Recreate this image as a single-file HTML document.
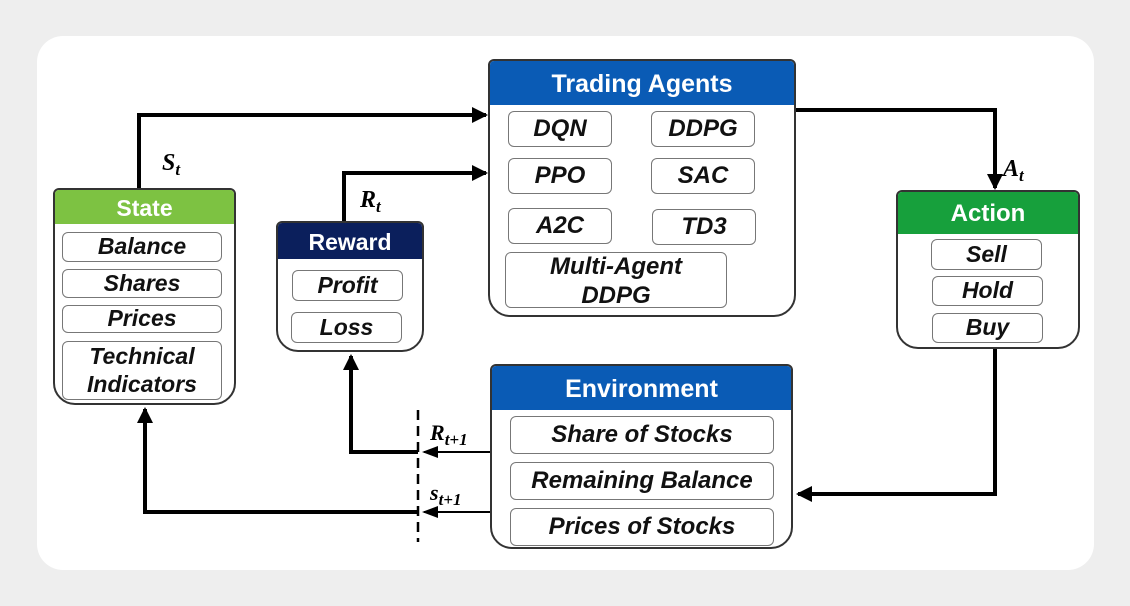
<!DOCTYPE html>
<html><head><meta charset="utf-8"><style>
body{margin:0;width:1130px;height:606px;background:#eeeeee;font-family:"Liberation Sans",sans-serif;overflow:hidden}
.card{position:absolute;left:37px;top:36px;width:1057px;height:534px;background:#fff;border-radius:26px}
.box{position:absolute;border:2px solid #333;border-radius:6px 6px 22px 22px;background:#fff;box-sizing:border-box;overflow:hidden}
.hd{position:absolute;left:0;right:0;top:0;color:#fff;font-weight:bold;text-align:center}
.it{position:absolute;border:1.5px solid #777;border-radius:6px;box-sizing:border-box;font-weight:bold;font-style:italic;text-align:center;color:#111;display:flex;align-items:center;justify-content:center;line-height:1.2}
svg{position:absolute;left:0;top:0}
.lb{font-family:"Liberation Serif",serif;font-weight:bold;font-style:italic}
</style></head><body>
<div class="card"></div>
<svg width="1130" height="606">
<defs><marker id="a" markerWidth="4" markerHeight="4" refX="3.5" refY="2" orient="auto" markerUnits="strokeWidth"><path d="M0,0L4,2L0,4z" fill="#000"/></marker>
<marker id="s" markerWidth="8" markerHeight="8" refX="7" refY="4" orient="auto" markerUnits="strokeWidth"><path d="M0,1L8,4L0,7z" fill="#000"/></marker></defs>
<g fill="none" stroke="#000" stroke-width="4">
<polyline points="139,188 139,115 486,115" marker-end="url(#a)"/>
<polyline points="344,221 344,173 486,173" marker-end="url(#a)"/>
<polyline points="796,110 995,110 995,188" marker-end="url(#a)"/>
<polyline points="995,349 995,494 798,494" marker-end="url(#a)"/>
<polyline points="418,452 351,452 351,356" marker-end="url(#a)"/>
<polyline points="418,512 145,512 145,409" marker-end="url(#a)"/>
</g>
<g stroke="#000" stroke-width="2" fill="none">
<line x1="490" y1="452" x2="424" y2="452" marker-end="url(#s)"/>
<line x1="490" y1="512" x2="424" y2="512" marker-end="url(#s)"/>
<line x1="418" y1="410" x2="418" y2="542" stroke-dasharray="10,6" stroke-width="2.5"/>
</g>
<text class="lb" x="162" y="170" font-size="24">S<tspan font-size="17" dy="5">t</tspan></text>
<text class="lb" x="360" y="207" font-size="24">R<tspan font-size="17" dy="5">t</tspan></text>
<text class="lb" x="1003" y="176" font-size="24">A<tspan font-size="17" dy="5">t</tspan></text>
<text class="lb" x="430" y="440" font-size="22">R<tspan font-size="17" dy="5">t+1</tspan></text>
<text class="lb" x="430" y="500" font-size="22">s<tspan font-size="17" dy="5">t+1</tspan></text>
</svg>

<div class="box" style="left:488px;top:59px;width:308px;height:258px">
<div class="hd" style="height:44px;background:#0a5bb5;font-size:25px;line-height:46px">Trading Agents</div></div>
<div class="it" style="left:508px;top:111px;width:104px;height:36px;font-size:24px">DQN</div>
<div class="it" style="left:651px;top:111px;width:104px;height:36px;font-size:24px">DDPG</div>
<div class="it" style="left:508px;top:158px;width:104px;height:36px;font-size:24px">PPO</div>
<div class="it" style="left:651px;top:158px;width:104px;height:36px;font-size:24px">SAC</div>
<div class="it" style="left:508px;top:208px;width:104px;height:36px;font-size:24px">A2C</div>
<div class="it" style="left:652px;top:209px;width:104px;height:36px;font-size:24px">TD3</div>
<div class="it" style="left:505px;top:252px;width:222px;height:56px;font-size:24px;align-items:flex-start">Multi-Agent<br>DDPG</div>

<div class="box" style="left:53px;top:188px;width:183px;height:217px">
<div class="hd" style="height:34px;background:#7dc242;font-size:23px;line-height:36px">State</div></div>
<div class="it" style="left:62px;top:232px;width:160px;height:30px;font-size:23px">Balance</div>
<div class="it" style="left:62px;top:269px;width:160px;height:29px;font-size:23px">Shares</div>
<div class="it" style="left:62px;top:305px;width:160px;height:28px;font-size:23px">Prices</div>
<div class="it" style="left:62px;top:341px;width:160px;height:59px;font-size:23px">Technical<br>Indicators</div>

<div class="box" style="left:276px;top:221px;width:148px;height:131px">
<div class="hd" style="height:36px;background:#0b1f5c;font-size:23px;line-height:38px">Reward</div></div>
<div class="it" style="left:292px;top:270px;width:111px;height:31px;font-size:23px">Profit</div>
<div class="it" style="left:291px;top:312px;width:111px;height:31px;font-size:23px">Loss</div>

<div class="box" style="left:896px;top:190px;width:184px;height:159px">
<div class="hd" style="height:42px;background:#17a03c;font-size:24px;line-height:44px">Action</div></div>
<div class="it" style="left:931px;top:239px;width:111px;height:31px;font-size:23px">Sell</div>
<div class="it" style="left:932px;top:276px;width:111px;height:30px;font-size:23px">Hold</div>
<div class="it" style="left:932px;top:313px;width:111px;height:30px;font-size:23px">Buy</div>

<div class="box" style="left:490px;top:364px;width:303px;height:185px">
<div class="hd" style="height:44px;background:#0a5bb5;font-size:25px;line-height:46px">Environment</div></div>
<div class="it" style="left:510px;top:416px;width:264px;height:38px;font-size:24px">Share of Stocks</div>
<div class="it" style="left:510px;top:462px;width:264px;height:38px;font-size:24px">Remaining Balance</div>
<div class="it" style="left:510px;top:508px;width:264px;height:38px;font-size:24px">Prices of Stocks</div>
</body></html>
